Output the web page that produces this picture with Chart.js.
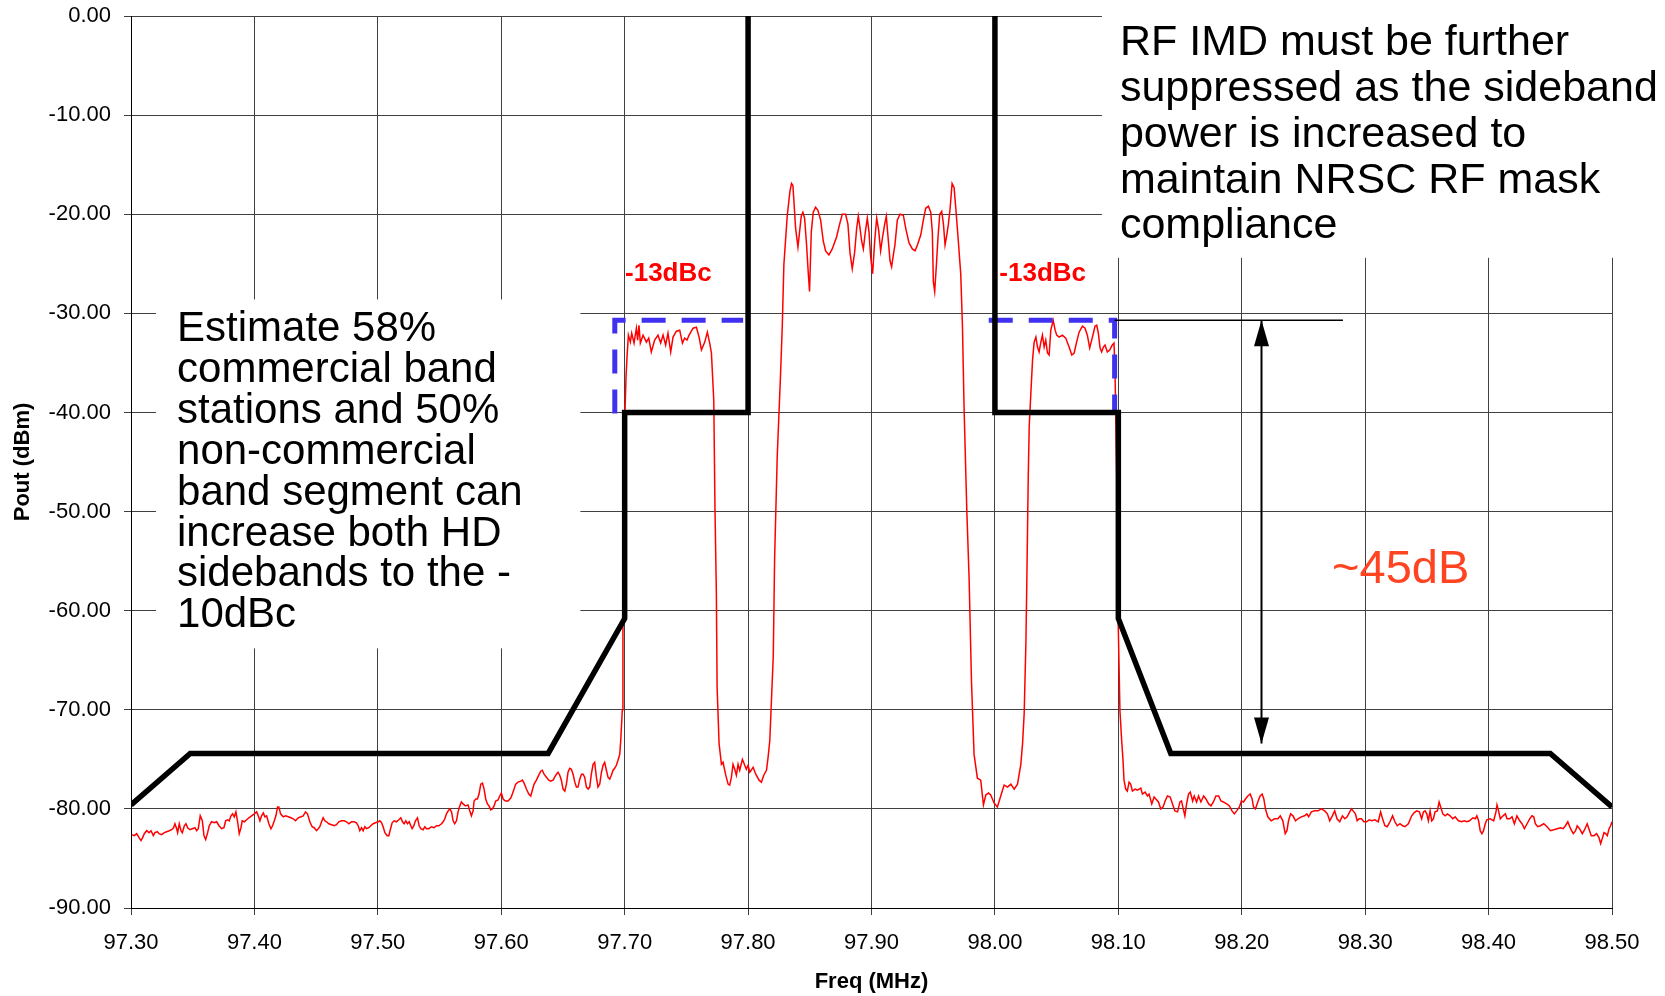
<!DOCTYPE html>
<html>
<head>
<meta charset="utf-8">
<title>HD sidebands vs NRSC mask</title>
<script src="https://cdn.jsdelivr.net/npm/chart.js@4.4.1/dist/chart.umd.min.js"></script>
<style>
  html, body { margin: 0; padding: 0; background: #fff; }
  canvas { display: block; }
</style>
</head>
<body>
<canvas id="grafico" width="1665" height="996"></canvas>
<script>
// axes
const xTicks = [97.30, 97.40, 97.50, 97.60, 97.70, 97.80, 97.90, 98.00, 98.10, 98.20, 98.30, 98.40, 98.50];
const yTicks = [0, -10, -20, -30, -40, -50, -60, -70, -80, -90];

// NRSC RF mask [MHz, dBm]; null = break between the two carrier edges
const mask = [[97.30, -79.6], [97.348, -74.4], [97.638, -74.4], [97.70, -60.8], [97.70, -40], [97.80, -40], [97.80, 0],
  [97.90, null], [98.00, 0], [98.00, -40], [98.10, -40], [98.10, -60.8], [98.1425, -74.4], [98.45, -74.4], [98.50, -79.8]];

// -13dBc sideband boxes (blue dashes)
const boxLower = [[97.692, -40.1], [97.692, -30.7], [97.796, -30.7]];
const boxUpper = [[97.995, -30.7], [98.097, -30.7], [98.097, -39.9]];

// ~45dB marker
const markerLine = [[98.097, -30.7], [98.282, -30.7]];
const arrowSpan = [[98.216, -30.7], [98.216, -73.4]];

// measured spectrum (red trace)
const spectrumLowerTail = [[97.3005,-82.6],[97.3027,-82.7],[97.3046,-82.5],[97.3065,-82.9],[97.3081,-83.2],[97.3094,-82.9],[97.3108,-82.5],[97.3127,-82.2],[97.3146,-82.4],[97.3162,-82.2],[97.3181,-82.7],[97.3194,-82.4],[97.3213,-82.3],[97.3227,-82.5],[97.3248,-82.6],[97.3270,-82.4],[97.3289,-82.3],[97.3310,-82.2],[97.3329,-82.1],[97.3345,-81.9],[97.3356,-81.5],[97.3370,-82.0],[97.3378,-82.4],[97.3391,-81.5],[97.3405,-82.2],[97.3416,-82.4],[97.3432,-81.7],[97.3445,-81.5],[97.3459,-81.9],[97.3478,-82.1],[97.3497,-82.0],[97.3518,-81.9],[97.3532,-82.2],[97.3545,-82.0],[97.3561,-80.7],[97.3578,-81.2],[97.3591,-82.7],[97.3605,-83.1],[97.3621,-82.4],[97.3634,-81.7],[97.3653,-81.3],[97.3675,-81.4],[97.3694,-81.3],[97.3713,-81.7],[97.3734,-82.0],[97.3753,-81.9],[97.3767,-81.2],[97.3783,-81.1],[97.3796,-81.2],[97.3810,-80.7],[97.3823,-80.5],[97.3837,-80.8],[97.3850,-80.3],[97.3864,-81.3],[97.3877,-82.5],[97.3891,-81.9],[97.3901,-81.2],[97.3918,-81.3],[97.3937,-81.1],[97.3955,-80.9],[97.3977,-80.7],[97.3999,-80.5],[97.4018,-80.3],[97.4031,-80.7],[97.4045,-81.2],[97.4058,-80.7],[97.4072,-80.4],[97.4085,-80.8],[97.4099,-80.7],[97.4117,-81.5],[97.4134,-82.0],[97.4147,-81.7],[97.4161,-81.2],[97.4174,-80.7],[97.4188,-79.8],[97.4198,-79.8],[97.4212,-80.5],[97.4233,-80.8],[97.4252,-80.7],[97.4274,-80.8],[97.4296,-80.9],[97.4314,-81.0],[97.4333,-81.2],[97.4355,-80.9],[97.4377,-80.8],[97.4395,-80.7],[97.4414,-80.3],[97.4430,-80.5],[97.4449,-81.3],[97.4468,-81.8],[97.4484,-81.9],[97.4503,-82.2],[97.4517,-82.0],[97.4530,-81.8],[97.4544,-81.3],[97.4557,-80.9],[97.4571,-81.2],[97.4584,-81.3],[97.4603,-81.5],[97.4625,-81.6],[97.4646,-81.7],[97.4665,-81.6],[97.4684,-81.3],[97.4706,-81.2],[97.4727,-81.2],[97.4746,-81.3],[97.4765,-81.5],[97.4787,-81.3],[97.4808,-81.3],[97.4827,-81.4],[97.4841,-81.7],[97.4854,-82.2],[97.4868,-81.9],[97.4881,-82.2],[97.4895,-81.8],[97.4908,-82.0],[97.4927,-81.9],[97.4943,-81.7],[97.4962,-81.5],[97.4981,-81.4],[97.5003,-81.3],[97.5016,-81.2],[97.5030,-81.4],[97.5043,-81.8],[97.5057,-82.4],[97.5076,-82.7],[97.5089,-82.7],[97.5103,-82.0],[97.5116,-81.4],[97.5132,-81.2],[97.5151,-81.3],[97.5170,-81.1],[97.5186,-80.9],[97.5200,-81.3],[97.5213,-81.5],[97.5227,-81.2],[97.5240,-81.5],[97.5254,-81.3],[97.5267,-81.7],[97.5278,-82.0],[97.5292,-81.7],[97.5305,-81.2],[97.5321,-80.9],[97.5335,-81.7],[97.5348,-82.0],[97.5367,-82.1],[97.5381,-81.8],[97.5394,-82.0],[97.5413,-82.0],[97.5435,-81.8],[97.5456,-81.9],[97.5475,-81.7],[97.5494,-81.7],[97.5516,-81.5],[97.5529,-81.3],[97.5543,-81.0],[97.5556,-80.5],[97.5570,-80.2],[97.5583,-80.0],[97.5597,-80.3],[97.5610,-81.2],[97.5623,-81.5],[97.5637,-81.2],[97.5650,-80.3],[97.5664,-79.7],[97.5677,-79.3],[97.5691,-79.5],[97.5710,-79.7],[97.5731,-79.6],[97.5745,-80.2],[97.5758,-80.7],[97.5772,-80.2],[97.5780,-79.2],[97.5794,-79.0],[97.5807,-79.0],[97.5820,-78.5],[97.5834,-77.5],[97.5848,-77.4],[97.5861,-78.0],[97.5874,-79.0],[97.5888,-79.5],[97.5901,-79.7],[97.5915,-80.1],[97.5928,-80.0],[97.5942,-79.7],[97.5955,-79.2],[97.5974,-79.1],[97.5988,-78.7],[97.6001,-78.4],[97.6015,-79.0],[97.6034,-79.2],[97.6055,-79.2],[97.6077,-78.9],[97.6090,-78.5],[97.6104,-78.0],[97.6117,-77.5],[97.6136,-77.3],[97.6158,-77.2],[97.6171,-77.1],[97.6185,-77.4],[97.6204,-78.0],[97.6223,-78.5],[97.6239,-78.7],[97.6250,-78.2],[97.6266,-77.5],[97.6285,-77.1],[97.6304,-76.6],[97.6320,-76.2],[97.6333,-76.1],[97.6347,-76.5],[97.6366,-76.8],[97.6385,-77.1],[97.6401,-77.2],[97.6420,-77.1],[97.6433,-76.8],[97.6447,-76.5],[97.6460,-76.3],[97.6474,-76.6],[97.6487,-77.1],[97.6501,-78.0],[97.6515,-78.2],[97.6528,-77.5],[97.6541,-76.3],[97.6555,-75.9],[97.6568,-76.0],[97.6582,-76.5],[97.6596,-77.3],[97.6609,-77.8],[97.6622,-77.8],[97.6636,-77.0],[97.6650,-76.5],[97.6663,-76.5],[97.6676,-76.8],[97.6690,-77.8],[97.6704,-78.0],[97.6717,-77.8],[97.6730,-76.5],[97.6744,-75.5],[97.6757,-75.3],[97.6771,-76.8],[97.6784,-77.8],[97.6798,-77.5],[97.6812,-76.3],[97.6825,-75.6],[97.6838,-75.3],[97.6852,-76.1],[97.6865,-76.8],[97.6879,-77.0],[97.6892,-76.6],[97.6906,-76.1],[97.6919,-75.9],[97.6933,-75.6],[97.6946,-75.1],[97.6960,-74.5],[97.6968,-73.1]];

const spectrumLowerSideband = [[97.6981,-70.0],[97.6986,-60.0],[97.6995,-49.9],[97.7003,-39.8],[97.7011,-36.4],[97.7019,-34.4],[97.7030,-32.2],[97.7046,-32.9],[97.7057,-32.0],[97.7076,-33.0],[97.7095,-31.5],[97.7105,-32.7],[97.7116,-31.2],[97.7127,-33.0],[97.7149,-32.2],[97.7176,-32.9],[97.7195,-32.5],[97.7216,-33.9],[97.7243,-32.7],[97.7270,-32.2],[97.7292,-33.0],[97.7311,-32.2],[97.7332,-33.2],[97.7351,-32.0],[97.7373,-33.9],[97.7392,-32.4],[97.7419,-31.8],[97.7446,-31.7],[97.7468,-33.0],[97.7486,-32.5],[97.7505,-32.7],[97.7522,-32.2],[97.7554,-31.5],[97.7581,-31.4],[97.7603,-32.4],[97.7622,-33.7],[97.7649,-32.9],[97.7670,-31.9],[97.7689,-33.0],[97.7703,-34.0],[97.7722,-38.8],[97.7732,-49.9],[97.7743,-58.3],[97.7749,-67.7],[97.7765,-73.4],[97.7784,-75.5],[97.7797,-75.3],[97.7819,-76.6],[97.7838,-77.5],[97.7851,-77.6],[97.7865,-76.8],[97.7878,-75.5],[97.7892,-76.0],[97.7905,-76.6],[97.7919,-75.5],[97.7932,-76.1],[97.7954,-75.0],[97.7973,-75.6],[97.7986,-76.0],[97.8000,-75.6],[97.8014,-76.3],[97.8041,-75.8],[97.8062,-76.5],[97.8089,-77.1],[97.8108,-77.3],[97.8127,-76.6],[97.8149,-76.1],[97.8162,-74.8],[97.8176,-73.1]];

const spectrumCarrier = [[97.8204,-64.6],[97.8215,-54.7],[97.8236,-44.5],[97.8263,-36.2],[97.8277,-31.3],[97.8290,-25.1],[97.8317,-20.2],[97.8339,-17.7],[97.8352,-16.9],[97.8363,-17.1],[97.8371,-18.6],[97.8385,-21.4],[97.8404,-23.3],[97.8417,-21.8],[97.8431,-20.2],[97.8444,-19.8],[97.8458,-20.4],[97.8474,-23.1],[97.8488,-26.0],[97.8498,-27.8],[97.8512,-21.8],[97.8528,-19.8],[97.8547,-19.3],[97.8566,-19.6],[97.8588,-20.6],[97.8609,-22.7],[97.8628,-23.7],[97.8655,-24.1],[97.8682,-23.5],[97.8717,-22.3],[97.8742,-21.0],[97.8763,-20.0],[97.8790,-20.0],[97.8809,-21.0],[97.8826,-23.9],[97.8844,-25.5],[97.8863,-23.9],[97.8880,-21.4],[97.8893,-20.2],[97.8907,-21.4],[97.8920,-22.7],[97.8934,-23.5],[97.8950,-21.8],[97.8966,-20.4],[97.8980,-21.8],[97.8993,-24.3],[97.9009,-26.0],[97.9026,-22.7],[97.9042,-20.4],[97.9058,-21.6],[97.9074,-23.7],[97.9090,-22.3],[97.9107,-21.0],[97.9120,-20.2],[97.9134,-22.3],[97.9150,-24.7],[97.9163,-25.3],[97.9177,-24.1],[97.9190,-23.1],[97.9209,-20.6],[97.9231,-20.0],[97.9258,-20.1],[97.9277,-21.4],[97.9304,-22.9],[97.9331,-23.5],[97.9353,-23.7],[97.9372,-23.1],[97.9399,-22.1],[97.9420,-20.6],[97.9439,-19.4],[97.9461,-19.2],[97.9480,-19.8],[97.9493,-21.8],[97.9501,-26.8],[97.9512,-27.8],[97.9526,-25.1],[97.9539,-22.3],[97.9553,-20.0],[97.9569,-19.7],[97.9583,-21.0],[97.9596,-23.1],[97.9610,-22.1],[97.9623,-21.0],[97.9637,-19.4],[97.9653,-16.9],[97.9669,-17.3],[97.9683,-19.4],[97.9701,-22.3],[97.9723,-26.0],[97.9737,-31.3],[97.9750,-39.5],[97.9772,-49.8],[97.9791,-56.8],[97.9810,-67.1],[97.9831,-74.5],[97.9858,-76.9],[97.9885,-77.1],[97.9907,-79.6],[97.9926,-78.6],[97.9948,-78.4],[97.9966,-78.6],[97.9993,-79.4],[98.0020,-79.8]];

const spectrumUpperSideband = [[98.0062,-78.1],[98.0075,-77.6],[98.0102,-77.8],[98.0129,-77.5],[98.0156,-78.0],[98.0183,-77.5],[98.0210,-75.5],[98.0224,-73.4],[98.0237,-70.4],[98.0251,-63.3],[98.0259,-56.6],[98.0270,-46.5],[98.0278,-41.4],[98.0291,-38.1],[98.0305,-34.7],[98.0318,-32.9],[98.0332,-32.4],[98.0345,-33.4],[98.0358,-33.9],[98.0372,-32.9],[98.0385,-32.2],[98.0399,-33.4],[98.0412,-32.7],[98.0426,-34.0],[98.0439,-34.2],[98.0453,-31.7],[98.0472,-30.7],[98.0488,-31.7],[98.0501,-32.2],[98.0520,-32.4],[98.0547,-32.2],[98.0574,-32.5],[98.0601,-33.4],[98.0623,-34.2],[98.0642,-34.0],[98.0660,-33.0],[98.0682,-31.9],[98.0709,-31.3],[98.0730,-31.5],[98.0749,-32.2],[98.0768,-33.5],[98.0790,-32.4],[98.0811,-31.3],[98.0825,-31.2],[98.0838,-32.0],[98.0852,-33.5],[98.0865,-33.9],[98.0879,-33.4],[98.0892,-33.2],[98.0911,-33.9],[98.0930,-33.7],[98.0951,-33.2],[98.0965,-33.0],[98.0973,-35.7],[98.0987,-46.5],[98.0997,-60.0],[98.1013,-70.1]];

const spectrumUpperTail = [[98.1027,-73.1],[98.1038,-75.1],[98.1046,-77.1],[98.1060,-78.0],[98.1073,-78.2],[98.1087,-77.3],[98.1100,-77.5],[98.1114,-78.2],[98.1136,-78.0],[98.1154,-78.1],[98.1182,-77.9],[98.1195,-78.5],[98.1217,-78.3],[98.1236,-78.7],[98.1249,-78.5],[98.1271,-79.5],[98.1290,-78.8],[98.1304,-79.0],[98.1325,-79.3],[98.1344,-80.0],[98.1363,-79.8],[98.1379,-79.2],[98.1398,-78.7],[98.1420,-78.8],[98.1439,-79.5],[98.1458,-80.2],[98.1480,-80.3],[98.1499,-79.3],[98.1512,-79.2],[98.1526,-80.0],[98.1539,-80.7],[98.1553,-79.5],[98.1569,-78.5],[98.1583,-78.3],[98.1602,-79.2],[98.1615,-78.7],[98.1634,-79.3],[98.1650,-78.7],[98.1669,-79.3],[98.1691,-78.7],[98.1710,-79.0],[98.1732,-79.5],[98.1751,-79.7],[98.1770,-79.3],[98.1791,-78.7],[98.1813,-78.7],[98.1832,-79.2],[98.1851,-79.3],[98.1878,-79.5],[98.1900,-79.7],[98.1921,-80.2],[98.1940,-80.5],[98.1959,-80.2],[98.1981,-79.8],[98.1997,-79.2],[98.2014,-79.3],[98.2030,-79.0],[98.2049,-78.7],[98.2068,-78.5],[98.2084,-79.0],[98.2095,-79.8],[98.2111,-80.0],[98.2130,-79.3],[98.2149,-78.7],[98.2165,-78.5],[98.2179,-79.0],[98.2192,-80.0],[98.2211,-80.8],[98.2238,-81.2],[98.2266,-81.0],[98.2293,-81.0],[98.2312,-80.7],[98.2333,-81.2],[98.2352,-82.5],[98.2366,-82.2],[98.2379,-81.2],[98.2396,-80.5],[98.2415,-80.7],[98.2436,-81.2],[98.2455,-81.0],[98.2482,-80.8],[98.2509,-80.7],[98.2528,-80.5],[98.2542,-80.8],[98.2564,-80.3],[98.2591,-80.2],[98.2618,-80.2],[98.2645,-80.0],[98.2672,-80.2],[98.2694,-80.5],[98.2713,-81.2],[98.2734,-80.7],[98.2753,-80.2],[98.2772,-81.0],[98.2794,-81.3],[98.2816,-80.7],[98.2835,-81.0],[98.2854,-80.8],[98.2875,-80.3],[98.2889,-80.0],[98.2902,-80.2],[98.2921,-80.5],[98.2935,-81.2],[98.2951,-81.0],[98.2970,-81.0],[98.2989,-81.3],[98.3011,-81.3],[98.3033,-81.1],[98.3052,-81.2],[98.3079,-81.1],[98.3106,-81.3],[98.3125,-80.3],[98.3141,-81.0],[98.3160,-81.7],[98.3179,-81.8],[98.3201,-81.3],[98.3222,-80.7],[98.3241,-81.3],[98.3260,-81.7],[98.3282,-81.5],[98.3304,-81.7],[98.3322,-81.8],[98.3350,-81.5],[98.3377,-80.7],[98.3396,-80.4],[98.3417,-80.2],[98.3439,-80.3],[98.3458,-81.0],[98.3472,-80.3],[98.3485,-80.2],[98.3499,-80.5],[98.3512,-81.2],[98.3526,-80.2],[98.3539,-81.2],[98.3553,-81.0],[98.3566,-80.3],[98.3585,-80.2],[98.3599,-79.3],[98.3612,-79.8],[98.3629,-80.5],[98.3648,-80.7],[98.3667,-80.5],[98.3688,-80.7],[98.3710,-81.0],[98.3729,-80.8],[98.3756,-81.2],[98.3783,-81.3],[98.3802,-81.2],[98.3824,-81.3],[98.3846,-81.2],[98.3873,-80.9],[98.3892,-81.0],[98.3905,-80.7],[98.3919,-81.2],[98.3932,-82.2],[98.3946,-82.5],[98.3959,-82.2],[98.3973,-81.5],[98.3986,-81.1],[98.4014,-81.0],[98.4041,-81.2],[98.4060,-80.3],[98.4068,-79.6],[98.4081,-80.2],[98.4095,-81.0],[98.4117,-80.7],[98.4136,-80.5],[98.4149,-81.0],[98.4171,-81.0],[98.4190,-80.8],[98.4209,-81.5],[98.4230,-80.7],[98.4252,-81.2],[98.4271,-81.5],[98.4290,-82.0],[98.4312,-81.5],[98.4333,-81.0],[98.4352,-80.7],[98.4366,-80.8],[98.4379,-81.5],[98.4398,-81.8],[98.4420,-81.7],[98.4447,-81.5],[98.4474,-81.8],[98.4501,-82.2],[98.4528,-82.1],[98.4556,-82.0],[98.4583,-81.9],[98.4604,-82.0],[98.4623,-81.7],[98.4642,-81.3],[98.4664,-82.0],[98.4686,-82.5],[98.4705,-82.2],[98.4718,-81.7],[98.4737,-82.0],[98.4759,-82.5],[98.4778,-82.1],[98.4799,-81.5],[98.4818,-82.2],[98.4832,-82.7],[98.4854,-82.7],[98.4875,-82.5],[98.4894,-82.9],[98.4908,-83.5],[98.4921,-83.0],[98.4935,-82.4],[98.4949,-82.5],[98.4962,-82.7],[98.4976,-82.0],[98.4989,-81.7],[98.5000,-81.3]];

// notes
const leftNote = ['Estimate 58%', 'commercial band', 'stations and 50%', 'non-commercial', 'band segment can', 'increase both HD', 'sidebands to the -', '10dBc'];
const rightNote = ['RF IMD must be further', 'suppressed as the sideband', 'power is increased to', 'maintain NRSC RF mask', 'compliance'];
const sidebandLabel = '-13dBc';
const marginLabel = '~45dB';

const FONT = '"Liberation Sans", Arial, Helvetica, sans-serif';
const pts = arr => arr.map(([x, y]) => ({ x, y }));
const spectrum = [].concat(spectrumLowerTail, spectrumLowerSideband, spectrumCarrier, spectrumUpperSideband, spectrumUpperTail);

// white note boxes, labels and arrow heads
const notes = {
    id: 'notes',
    beforeDatasetsDraw(chart) {
        const { ctx, scales: { x, y } } = chart;
        ctx.save();
        ctx.fillStyle = '#ffffff';
        let x0 = x.getPixelForValue(97.3203), x1 = x.getPixelForValue(97.6641);
        let y0 = y.getPixelForValue(-28.6), y1 = y.getPixelForValue(-63.8);
        ctx.fillRect(x0, y0, x1 - x0, y1 - y0);
        x0 = x.getPixelForValue(98.0867);
        y1 = y.getPixelForValue(-24.4);
        ctx.fillRect(x0, 0, chart.width - x0, y1);
        ctx.restore();
    },
    afterDatasetsDraw(chart) {
        const { ctx, scales: { x, y } } = chart;
        ctx.save();
        ctx.textAlign = 'left';
        ctx.textBaseline = 'alphabetic';

        ctx.fillStyle = '#000';
        ctx.font = '42px ' + FONT;
        let lx = x.getPixelForValue(97.3373), ly = y.getPixelForValue(-32.8);
        leftNote.forEach((t, i) => ctx.fillText(t, lx, ly + i * 40.9));

        ctx.font = '43px ' + FONT;
        lx = x.getPixelForValue(98.1013); ly = y.getPixelForValue(-3.98);
        rightNote.forEach((t, i) => ctx.fillText(t, lx, ly + i * 45.7));

        ctx.fillStyle = '#ff0000';
        ctx.font = 'bold 26px ' + FONT;
        ctx.fillText(sidebandLabel, x.getPixelForValue(97.7003), y.getPixelForValue(-26.7));
        ctx.fillText(sidebandLabel, x.getPixelForValue(98.0036), y.getPixelForValue(-26.7));

        ctx.fillStyle = '#ff4422';
        ctx.font = '47px ' + FONT;
        ctx.fillText(marginLabel, x.getPixelForValue(98.2732), y.getPixelForValue(-57.2));

        // arrow heads
        ctx.fillStyle = '#000';
        const ax = x.getPixelForValue(arrowSpan[0][0]);
        const top = y.getPixelForValue(arrowSpan[0][1]);
        const bot = y.getPixelForValue(arrowSpan[1][1]);
        ctx.beginPath();
        ctx.moveTo(ax, top); ctx.lineTo(ax - 7.5, top + 26); ctx.lineTo(ax + 7.5, top + 26); ctx.closePath();
        ctx.fill();
        ctx.beginPath();
        ctx.moveTo(ax, bot); ctx.lineTo(ax - 7.5, bot - 26); ctx.lineTo(ax + 7.5, bot - 26); ctx.closePath();
        ctx.fill();
        ctx.restore();
    }
};

const ctx = document.getElementById('grafico');

new Chart(ctx, {
    type: 'line',
    data: {
        datasets: [
            { data: pts(markerLine), borderColor: '#000', borderWidth: 1.5 },
            { data: pts(arrowSpan), borderColor: '#000', borderWidth: 2 },
            { data: pts(mask), borderColor: '#000', borderWidth: 5.5, borderJoinStyle: 'miter', borderCapStyle: 'butt', spanGaps: false },
            { data: pts(boxLower), borderColor: '#4030f0', borderWidth: 5, borderDash: [24, 16], borderJoinStyle: 'miter' },
            { data: pts(boxUpper), borderColor: '#4030f0', borderWidth: 5, borderDash: [24, 16], borderJoinStyle: 'miter' },
            { data: pts(spectrum), borderColor: '#ff0000', borderWidth: 1.5 }
        ]
    },
    options: {
        responsive: false,
        animation: false,
        events: [],
        layout: { padding: { left: 0, top: 16, right: 53, bottom: 0 } },
        elements: {
            point: { radius: 0 },
            line: { tension: 0, fill: false }
        },
        plugins: {
            legend: { display: false },
            tooltip: { enabled: false }
        },
        scales: {
            x: {
                type: 'linear',
                min: 97.30,
                max: 98.50,
                afterBuildTicks: s => { s.ticks = xTicks.map(v => ({ value: v })); },
                afterFit: s => { s.height = 88; s.paddingLeft = 0; s.paddingRight = 0; },
                grid: { color: '#404040', lineWidth: 1, drawTicks: true, tickLength: 7, tickColor: '#404040' },
                border: { display: true, color: '#000', width: 1 },
                ticks: {
                    color: '#000',
                    padding: 15,
                    maxRotation: 0,
                    autoSkip: false,
                    font: { family: FONT, size: 22 },
                    callback: v => v.toFixed(2)
                },
                title: {
                    display: true,
                    text: 'Freq (MHz)',
                    color: '#000',
                    font: { family: FONT, size: 22, weight: 'bold', lineHeight: 1.2 },
                    padding: { top: 0, bottom: 1 }
                }
            },
            y: {
                type: 'linear',
                min: -90,
                max: 0,
                afterBuildTicks: s => { s.ticks = yTicks.map(v => ({ value: v })); },
                afterFit: s => { s.width = 131; s.paddingTop = 0; s.paddingBottom = 0; },
                grid: { color: '#404040', lineWidth: 1, drawTicks: true, tickLength: 7, tickColor: '#404040' },
                border: { display: true, color: '#000', width: 1 },
                ticks: {
                    color: '#000',
                    padding: 13,
                    font: { family: FONT, size: 22 },
                    callback: v => v.toFixed(2)
                },
                title: {
                    display: true,
                    text: 'Pout (dBm)',
                    color: '#000',
                    font: { family: FONT, size: 22, weight: 'bold', lineHeight: 1.2 },
                    padding: { top: 10, bottom: 0 }
                }
            }
        }
    },
    plugins: [notes]
});
</script>
</body>
</html>
